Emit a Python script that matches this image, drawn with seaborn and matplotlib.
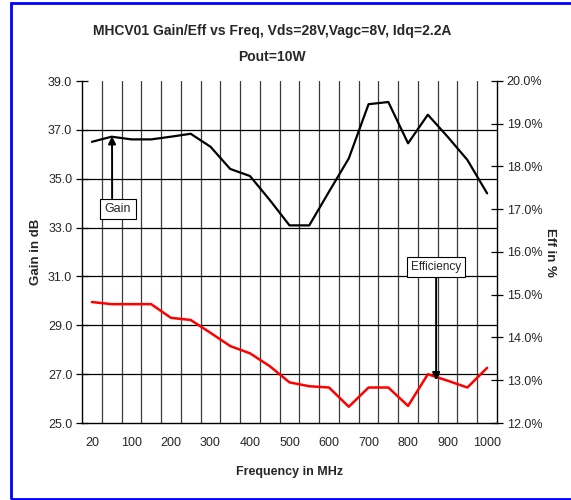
import numpy as np
import pandas as pd
import matplotlib
matplotlib.use("Agg")
import matplotlib.pyplot as plt
import seaborn as sns
from matplotlib.patches import Rectangle
from matplotlib.ticker import FixedLocator, FuncFormatter

# Frequences (axe par categories)
freqs = [20, 50, 100, 150, 200, 250, 300, 350, 400, 450, 500,
         550, 600, 650, 700, 750, 800, 850, 900, 950, 1000]
gain_db = [36.51, 36.72, 36.61, 36.61, 36.72, 36.84, 36.31, 35.40, 35.11, 34.13, 33.09,
           33.09, 34.47, 35.83, 38.05, 38.14, 36.45, 37.62, 36.72, 35.77, 34.40]
eff_pct = [14.83, 14.78, 14.78, 14.78, 14.46, 14.41, 14.11, 13.80, 13.63, 13.33, 12.95,
           12.86, 12.83, 12.38, 12.83, 12.83, 12.40, 13.14, 12.99, 12.83, 13.29]
xlabels = ["20", "100", "200", "300", "400", "500", "600", "700", "800", "900", "1000"]

df = pd.DataFrame({"pos": np.arange(len(freqs)), "freq": freqs,
                   "gain": gain_db, "eff": eff_pct})

sns.set_style("white")
plt.rcParams["font.family"] = ["Liberation Sans", "DejaVu Sans"]

fig = plt.figure(figsize=(5.71, 5.00), dpi=100)
ax = fig.add_axes([82 / 571, 1 - 423 / 500, (497 - 82) / 571, (423 - 81) / 500])
ax2 = ax.twinx()

# grille
n = len(freqs)
ax.set_xlim(-0.5, n - 0.5)
ax.set_ylim(25, 39)
ax2.set_ylim(12, 20)
ax.xaxis.set_major_locator(FixedLocator(np.arange(0, n, 2)))
ax.set_xticklabels(xlabels)
ax.xaxis.set_minor_locator(FixedLocator(np.arange(0.5, n - 0.5, 1)))
for b in np.arange(0.5, n - 0.5, 1):
    ax.axvline(b, color="#3a3a3a", lw=0.9, zorder=0)
ax.set_yticks(np.arange(25, 39.1, 2))
for yv in np.arange(27, 39, 2):
    ax.axhline(yv, color="black", lw=0.9, zorder=0)
ax.yaxis.set_major_formatter(FuncFormatter(lambda v, p: f"{v:.1f}"))
ax2.set_yticks(np.arange(12, 20.1, 1))
ax2.yaxis.set_major_formatter(FuncFormatter(lambda v, p: f"{v:.1f}%"))

sns.lineplot(data=df, x="pos", y="gain", ax=ax, color="black", lw=1.6, zorder=3)
sns.lineplot(data=df, x="pos", y="eff", ax=ax2, color="#ff0000", lw=1.8, zorder=3)

for a in (ax, ax2):
    for s in a.spines.values():
        s.set_visible(False)
ax.spines["left"].set_visible(True)
ax.spines["bottom"].set_visible(True)
ax2.spines["right"].set_visible(True)
for s in (ax.spines["left"], ax.spines["bottom"], ax2.spines["right"]):
    s.set_color("black")
    s.set_linewidth(1.0)

ax.tick_params(axis="x", which="major", length=0, labelsize=9, pad=10)
ax.tick_params(axis="x", which="minor", direction="out", length=4, width=0.9, color="black")
ax.tick_params(axis="y", direction="inout", length=8, width=0.9, labelsize=9,
               left=True, color="black", pad=3)
ax2.tick_params(axis="y", direction="inout", length=8, width=0.9, labelsize=9,
                right=True, color="black", pad=3)

ax.set_xlabel("Frequency in MHz", fontsize=9, fontweight="bold", labelpad=12)
ax.set_ylabel("Gain in dB", fontsize=9.5, fontweight="bold", labelpad=4)
ax2.set_ylabel("Eff in %", fontsize=9.5, fontweight="bold", rotation=-90, labelpad=10)

fig.text(272 / 571, 1 - 31 / 500, "MHCV01 Gain/Eff vs Freq, Vds=28V,Vagc=8V, Idq=2.2A",
         ha="center", va="center", fontsize=10, fontweight="bold")
fig.text(272 / 571, 1 - 57 / 500, "Pout=10W",
         ha="center", va="center", fontsize=10, fontweight="bold")

box = dict(boxstyle="square,pad=0.35", fc="white", ec="black", lw=0.8)
arr = dict(arrowstyle="-|>", color="black", lw=1.4, mutation_scale=11,
           shrinkA=0, shrinkB=0)
ax.annotate("Gain", xy=(1.02, 36.74), xytext=(1.32, 33.76), fontsize=9,
            ha="center", va="center", bbox=box,
            arrowprops=dict(arr, relpos=(0.28, 1.0)), zorder=5)
ax2.annotate("Efficiency", xy=(17.42, 13.0), xytext=(17.42, 15.65), fontsize=8.5,
             ha="center", va="center", bbox=box, arrowprops=arr, zorder=5)

# cadre bleu
fig.patches.append(Rectangle((11 / 571, 1 / 500), 1.0, 496 / 500, transform=fig.transFigure,
                             fill=False, ec="#0000ff", lw=2, clip_on=False))

fig.savefig("out.png", dpi=100)
